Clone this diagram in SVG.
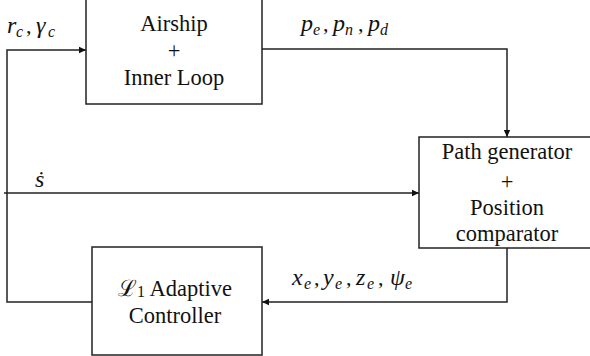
<svg xmlns="http://www.w3.org/2000/svg" width="590" height="356" viewBox="0 0 590 356">
<style>
text{font-family:"Liberation Serif","Times New Roman",serif;fill:#111}
.box{fill:#fff;stroke:#222;stroke-width:1.5}
.t{font-size:22.5px;text-anchor:middle}
.m{font-size:24px;font-style:italic}
.s{font-size:16px;font-style:italic}
.p{font-size:22px;font-style:normal}
.c{fill:none;stroke:#222;stroke-width:1.5}
</style>
<defs>
<marker id="ar" markerWidth="8" markerHeight="8" refX="7" refY="4" orient="auto" markerUnits="userSpaceOnUse">
<path d="M0,0.8 L7,4 L0,7.2 Z" fill="#111"/>
</marker>
</defs>
<rect width="590" height="356" fill="#fff"/>
<g id="connectors">
<path class="c" d="M92,302 H7 V50 H86" marker-end="url(#ar)"/>
<path class="c" d="M262,49 H507 V137" marker-end="url(#ar)"/>
<path class="c" d="M4,193 H419" marker-end="url(#ar)"/>
<path class="c" d="M507,248 V302 H262" marker-end="url(#ar)"/>
</g>
<g id="airship">
<rect class="box" x="86" y="-2" width="176" height="106"/>
<text class="t" x="174" y="31">Airship</text>
<text class="t" x="174" y="58">+</text>
<text class="t" x="174" y="85">Inner Loop</text>
</g>
<g id="pathgen">
<rect class="box" x="419" y="137" width="180" height="111"/>
<text class="t" x="507" y="159">Path generator</text>
<text class="t" x="507" y="189">+</text>
<text class="t" x="507" y="215">Position</text>
<text class="t" x="507" y="241">comparator</text>
</g>
<g id="l1">
<rect class="box" x="92" y="247" width="170" height="108"/>
<text class="t" x="175" y="296">ℒ<tspan font-size="16" dy="1">1</tspan><tspan dy="-1"> Adaptive</tspan></text>
<text class="t" x="175" y="323">Controller</text>
</g>
<g id="labels">
<text class="m" y="33"><tspan x="7">r</tspan><tspan class="s" x="16" y="37">c</tspan><tspan class="p" x="26" y="33">,</tspan><tspan x="36">γ</tspan><tspan class="s" x="48" y="37">c</tspan></text>
<text class="m" y="31"><tspan x="301">p</tspan><tspan class="s" x="313" y="35">e</tspan><tspan class="p" x="323" y="31">,</tspan><tspan x="333">p</tspan><tspan class="s" x="345" y="35">n</tspan><tspan class="p" x="358" y="31">,</tspan><tspan x="368">p</tspan><tspan class="s" x="380" y="35">d</tspan></text>
<text class="m" x="35" y="187">ṡ</text>
<text class="m" y="285"><tspan x="292">x</tspan><tspan class="s" x="304" y="289">e</tspan><tspan class="p" x="314" y="285">,</tspan><tspan x="323">y</tspan><tspan class="s" x="335" y="289">e</tspan><tspan class="p" x="346" y="285">,</tspan><tspan x="356">z</tspan><tspan class="s" x="367" y="289">e</tspan><tspan class="p" x="378" y="285">,</tspan><tspan x="390">ψ</tspan><tspan class="s" x="405" y="289">e</tspan></text>
</g>
</svg>
